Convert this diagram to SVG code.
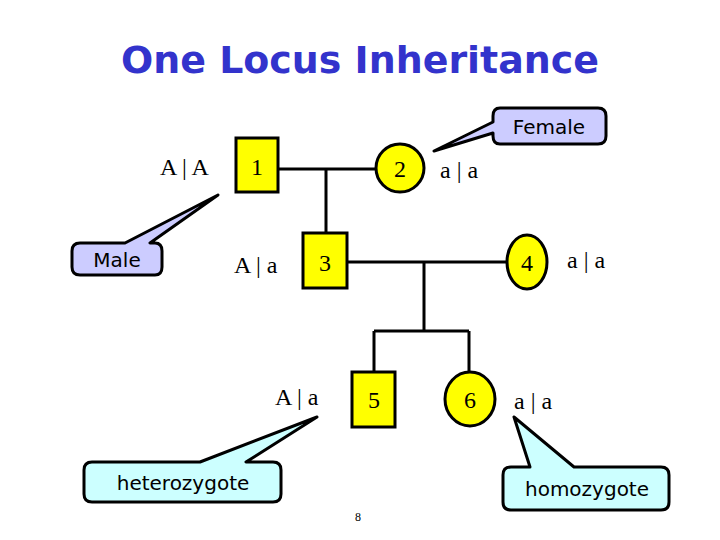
<svg xmlns="http://www.w3.org/2000/svg" width="720" height="540" viewBox="0 0 720 540">
<style>
.n{fill:#ffff00;stroke:#000;stroke-width:3}
.num{font-family:"Liberation Serif",serif;font-size:24px;text-anchor:middle}
.g{font-family:"Liberation Serif",serif;font-size:24px}
.c{stroke:#000;stroke-width:3;fill:none}
.call{stroke:#000;stroke-width:3;stroke-linejoin:round}
.ct{font-family:"DejaVu Sans",sans-serif;font-size:20px;text-anchor:middle}
</style>
<rect width="720" height="540" fill="#fff"/>
<text x="360" y="73" font-family="DejaVu Sans,sans-serif" font-weight="bold" font-size="38" fill="#3333cc" text-anchor="middle" textLength="478" lengthAdjust="spacingAndGlyphs">One Locus Inheritance</text>
<g id="connectors" class="c">
<path d="M278 169H376M326 169V233M347 262H507M424 262V331M374 331H469M374 331V372M469 331V372"/>
</g>
<g id="node1"><rect class="n" x="236" y="138" width="42" height="54"/><text class="num" x="257" y="175">1</text></g>
<g id="node2"><ellipse class="n" cx="400" cy="168" rx="24" ry="24"/><text class="num" x="400" y="177">2</text></g>
<g id="node3"><rect class="n" x="303" y="233" width="44" height="55"/><text class="num" x="325" y="271">3</text></g>
<g id="node4"><ellipse class="n" cx="527" cy="262" rx="20" ry="27"/><text class="num" x="527" y="271">4</text></g>
<g id="node5"><rect class="n" x="352" y="372" width="43" height="55"/><text class="num" x="374" y="408">5</text></g>
<g id="node6"><ellipse class="n" cx="470" cy="399" rx="25" ry="27"/><text class="num" x="470" y="408">6</text></g>
<g id="labels" class="g">
<text x="160" y="175">A | A</text>
<text x="440" y="178">a | a</text>
<text x="234" y="273">A | a</text>
<text x="567" y="268">a | a</text>
<text x="275" y="405">A |  a</text>
<text x="514" y="409">a | a</text>
</g>
<g id="female">
<path class="call" fill="#ccccff" d="M500 108H598Q606 108 606 116V136Q606 144 598 144H500Q493 144 493 136V133L434 151L493 122V116Q493 108 500 108Z"/>
<text class="ct" x="549" y="134">Female</text>
</g>
<g id="male">
<path class="call" fill="#ccccff" d="M80 243H125L218 195L150 243H155Q162 243 162 251V267Q162 275 155 275H80Q72 275 72 267V251Q72 243 80 243Z"/>
<text class="ct" x="117" y="267">Male</text>
</g>
<g id="heterozygote">
<path class="call" fill="#ccffff" d="M92 462H200L317 417L246 462H273Q281 462 281 470V494Q281 502 273 502H92Q84 502 84 494V470Q84 462 92 462Z"/>
<text class="ct" x="183" y="490">heterozygote</text>
</g>
<g id="homozygote">
<path class="call" fill="#ccffff" d="M511 467H530L514 417L574 467H661Q669 467 669 475V502Q669 510 661 510H511Q503 510 503 502V475Q503 467 511 467Z"/>
<text class="ct" x="587" y="496">homozygote</text>
</g>
<text x="358" y="521" font-family="Liberation Serif,serif" font-size="12" text-anchor="middle">8</text>
</svg>
